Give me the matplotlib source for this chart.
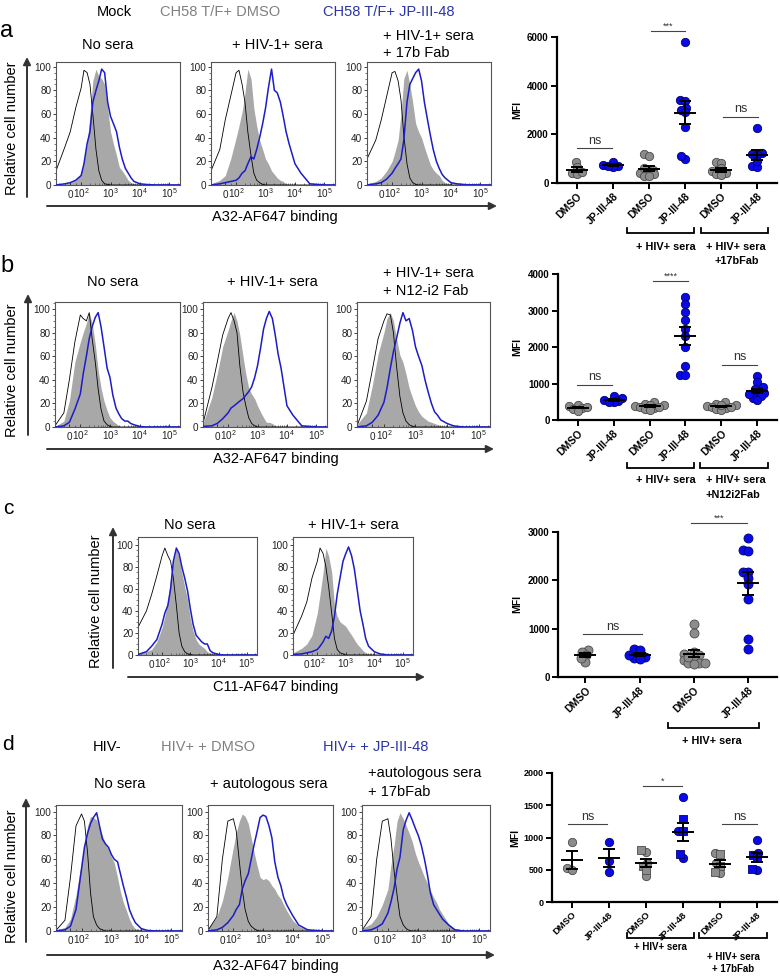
import numpy as np
import matplotlib
matplotlib.use('Agg')
import matplotlib.pyplot as plt
from matplotlib.ticker import FixedLocator, MultipleLocator, NullFormatter

plt.rcParams['font.family'] = ['Liberation Sans', 'DejaVu Sans']
plt.rcParams['mathtext.fontset'] = 'custom'
plt.rcParams['mathtext.rm'] = 'Liberation Sans'
plt.rcParams['mathtext.it'] = 'Liberation Sans:italic'
plt.rcParams['mathtext.bf'] = 'Liberation Sans:bold'
plt.rcParams['mathtext.default'] = 'regular'

# ---------------- histogram data (fluorescence intensity grid, % of max) ----------------
XG = [-130, -50, 0, 50, 100, 125, 160, 200, 250, 320, 400, 500, 630, 800, 1000, 1250,
      1600, 2000, 2500, 3200, 4000, 5000, 6300, 10000, 16000, 32000, 100000, 230000]

a1_black = [12, 32, 45, 65, 82, 97, 95, 85, 60, 30, 12, 4, 1, 0.5, 0, 0, 0, 0, 0, 0, 0, 0, 0, 0, 0, 0, 0, 0]
a1_gray = [0, 1, 2, 4, 10, 20, 35, 60, 88, 98, 92, 90, 85, 65, 45, 35, 25, 15, 12, 8, 4, 2, 1, 0, 0, 0, 0, 0]
a1_blue = [0, 1, 2, 4, 8, 18, 35, 45, 70, 80, 88, 98, 95, 70, 58, 52, 45, 32, 22, 14, 10, 6, 3, 1, 0.5, 0, 0, 0]

a2_black = [12, 30, 55, 75, 95, 97, 85, 70, 45, 25, 10, 4, 2, 0.5, 0, 0, 0, 0, 0, 0, 0, 0, 0, 0, 0, 0, 0, 0]
a2_gray = [1, 4, 8, 22, 40, 50, 62, 78, 98, 90, 65, 50, 38, 30, 22, 18, 12, 9, 6, 4, 3, 1, 0.5, 0, 0, 0, 0, 0]
a2_blue = [0, 1, 2, 3, 4, 6, 10, 12, 18, 24, 22, 30, 40, 52, 65, 82, 98, 80, 78, 70, 58, 45, 35, 18, 10, 1, 0, 0]

a3_black = [22, 38, 55, 75, 95, 96, 88, 72, 42, 18, 6, 2, 0.5, 0, 0, 0, 0, 0, 0, 0, 0, 0, 0, 0, 0, 0, 0, 0]
a3_gray = [1, 3, 6, 12, 20, 28, 38, 60, 90, 97, 85, 70, 52, 45, 40, 32, 24, 17, 13, 10, 8, 4, 2, 0.5, 0, 0, 0, 0]
a3_blue = [0, 1, 2, 5, 10, 14, 18, 22, 38, 70, 85, 90, 95, 98, 88, 70, 55, 42, 30, 20, 14, 9, 6, 2, 1, 0.3, 0, 0]

b1_black = [1, 12, 40, 72, 95, 92, 90, 97, 75, 55, 32, 15, 5, 2, 0.5, 0, 0, 0, 0, 0, 0, 0, 0, 0, 0, 0, 0, 0]
b1_gray = [0.5, 5, 22, 55, 72, 80, 88, 97, 88, 70, 48, 33, 22, 14, 8, 5, 3, 1, 0, 0, 0, 0, 0, 0, 0, 0, 0, 0]
b1_blue = [0, 1, 4, 15, 28, 45, 60, 75, 85, 93, 97, 85, 68, 50, 42, 27, 16, 11, 7, 5, 5, 3, 2, 0.5, 0, 0, 0, 0]

b2_black = [3, 33, 55, 78, 92, 97, 90, 80, 52, 30, 18, 8, 3, 1, 0, 0, 0, 0, 0, 0, 0, 0, 0, 0, 0, 0, 0, 0]
b2_gray = [3, 25, 45, 68, 82, 90, 97, 90, 78, 60, 45, 33, 28, 24, 18, 13, 8, 4, 4, 3, 1, 0.5, 0, 0, 0, 0, 0, 0]
b2_blue = [0.5, 1, 3, 7, 12, 16, 18, 20, 22, 24, 27, 30, 34, 42, 52, 66, 83, 92, 98, 92, 78, 62, 50, 18, 10, 1, 0, 0]

b3_black = [1, 22, 48, 75, 90, 96, 95, 80, 52, 26, 12, 5, 2, 0.5, 0, 0, 0, 0, 0, 0, 0, 0, 0, 0, 0, 0, 0, 0]
b3_gray = [2, 12, 35, 62, 80, 92, 97, 90, 75, 61, 55, 45, 33, 25, 18, 13, 9, 7, 5, 4, 3, 2, 1, 0, 0, 0, 0, 0]
b3_blue = [0, 1, 4, 10, 21, 33, 50, 64, 75, 88, 97, 90, 92, 82, 68, 60, 52, 40, 30, 20, 13, 10, 6, 3, 1, 0, 0, 0]

c1_black = [25, 40, 55, 72, 90, 97, 90, 85, 70, 45, 20, 8, 3, 1, 0.5, 0, 0, 0, 0, 0, 0, 0, 0, 0, 0, 0, 0, 0]
c1_gray = [2, 3, 5, 12, 25, 35, 50, 70, 85, 97, 88, 75, 62, 50, 33, 22, 14, 10, 8, 6, 3, 2, 1, 0, 0, 0, 0, 0]
c1_blue = [0.5, 3, 8, 14, 28, 38, 45, 60, 85, 97, 92, 80, 70, 58, 42, 28, 18, 15, 12, 10, 10, 4, 2, 0.5, 0, 0, 0, 0]

c2_black = [18, 35, 48, 70, 85, 97, 92, 80, 62, 38, 15, 5, 2, 1, 0, 0, 0, 0, 0, 0, 0, 0, 0, 0, 0, 0, 0, 0]
c2_gray = [2, 6, 10, 18, 38, 55, 75, 97, 90, 75, 45, 35, 30, 28, 26, 22, 18, 14, 10, 7, 4, 2, 1, 0, 0, 0, 0, 0]
c2_blue = [0.5, 1, 2, 3, 5, 8, 12, 17, 15, 22, 35, 55, 70, 85, 92, 98, 90, 78, 60, 40, 28, 15, 8, 3, 1, 0, 0, 0]

d1_black = [0.5, 9, 45, 88, 98, 92, 65, 32, 12, 5, 2, 1, 0, 0, 0, 0, 0, 0, 0, 0, 0, 0, 0, 0, 0, 0, 0, 0]
d1_gray = [1, 3, 10, 30, 58, 72, 88, 96, 95, 93, 86, 80, 73, 68, 62, 57, 45, 33, 24, 17, 10, 5, 2, 0.5, 0, 0, 0, 0]
d1_blue = [0, 1, 4, 18, 52, 70, 82, 90, 95, 99, 88, 77, 73, 70, 64, 60, 58, 48, 38, 28, 18, 12, 7, 2, 0.5, 0, 0, 0]

d2_black = [0.5, 12, 60, 92, 94, 84, 58, 35, 18, 8, 4, 2, 0.5, 0, 0, 0, 0, 0, 0, 0, 0, 0, 0, 0, 0, 0, 0, 0]
d2_gray = [2, 12, 25, 45, 70, 82, 92, 98, 96, 90, 78, 66, 55, 45, 43, 44, 42, 38, 35, 30, 27, 22, 17, 9, 4, 1, 0, 0]
d2_blue = [0, 1, 3, 7, 13, 18, 22, 35, 42, 48, 60, 72, 83, 95, 97, 96, 88, 78, 58, 45, 38, 28, 22, 13, 5, 1, 0, 0]

d3_black = [0.5, 12, 60, 92, 94, 78, 50, 30, 12, 5, 2, 0.5, 0, 0, 0, 0, 0, 0, 0, 0, 0, 0, 0, 0, 0, 0, 0, 0]
d3_gray = [2, 6, 12, 22, 35, 55, 72, 92, 99, 94, 88, 82, 75, 65, 58, 52, 45, 40, 34, 28, 24, 18, 14, 6, 2, 0.5, 0, 0]
d3_blue = [0, 1, 3, 6, 15, 24, 36, 52, 62, 85, 93, 99, 93, 86, 80, 72, 60, 47, 32, 22, 18, 14, 10, 5, 1, 0, 0, 0]

HIST_XTICKS = [0, 100, 1000, 10000, 100000]
HIST_XTICKLABELS = ['$0$', '$10^2$', '$10^3$', '$10^4$', '$10^5$']
HIST_YTICKS = [0, 20, 40, 60, 80, 100]

# ---------------- scatter data (MFI) ----------------
CATS6 = ['DMSO', 'JP-III-48', 'DMSO', 'JP-III-48', 'DMSO', 'JP-III-48']
CATS4 = ['DMSO', 'JP-III-48', 'DMSO', 'JP-III-48']

a_dmso_nosera = [850, 650, 420, 380, 450]
a_jp_nosera = [860, 700, 650, 750, 680]
a_dmso_sera = [1180, 1100, 550, 480, 420, 350, 300, 600, 280]
a_jp_sera = [5800, 3400, 3350, 3100, 3000, 2900, 2300, 1000, 1100]
a_dmso_17b = [850, 820, 600, 480, 400, 350, 320]
a_jp_17b = [2250, 1250, 1200, 1150, 700, 650, 900]

b_dmso_nosera = [420, 380, 330, 300, 260, 350]
b_jp_nosera = [650, 600, 560, 520, 480, 500]
b_dmso_sera = [500, 450, 400, 380, 350, 320, 300, 420, 280, 360]
b_jp_sera = [3370, 3170, 2950, 2730, 2500, 2290, 1990, 1470, 1230, 1230]
b_dmso_n12 = [500, 450, 400, 380, 350, 320, 300, 280, 420, 350]
b_jp_n12 = [1200, 1050, 900, 800, 750, 700, 650, 600, 550, 850, 700]

c_dmso_nosera = [560, 520, 450, 320, 400]
c_jp_nosera = [580, 560, 420, 400, 380, 450]
c_dmso_sera = [1100, 920, 520, 480, 450, 400, 350, 300, 280, 260, 300, 420]
c_jp_sera = [2870, 2620, 2600, 2170, 2170, 2050, 1930, 1620, 780, 580]

d_dmso_nosera_c = [930, 520, 490]
d_jp_nosera_c = [930, 640, 470]
d_dmso_sera_c = [770, 600, 410]
d_dmso_sera_s = [800, 560, 500]
d_jp_sera_c = [1630, 1100, 680]
d_jp_sera_s = [1280, 1100, 740]
d_dmso_17b_c = [760, 610, 450]
d_dmso_17b_s = [740, 560, 460]
d_jp_17b_c = [960, 760, 500]
d_jp_17b_s = [730, 680, 510]

# ---------------- figure ----------------
W, H = 780, 977
fig = plt.figure(figsize=(W / 100, H / 100), dpi=100)

GRAYFILL = '#a8a8a8'
BLUELINE = '#1c1cc8'
GRAYPT = '#8c8c8c'
BLUEPT = '#0a0ae8'
LEG_GRAY = '#808080'
LEG_BLUE = '#2a34a8'


def px_axes(l, t, r, b, **kw):
    return fig.add_axes([l / W, 1 - b / H, (r - l) / W, (b - t) / H], **kw)


def hist_panel(rect, black, gray, blue, ytop=105):
    ax = px_axes(*rect)
    ax.set_xscale('symlog', linthresh=100, linscale=0.333)
    ax.fill_between(XG, 0, gray, color=GRAYFILL, lw=0, zorder=1)
    ax.plot(XG, black, color='black', lw=0.6, zorder=2)
    ax.plot(XG, blue, color=BLUELINE, lw=1.1, zorder=3)
    ax.set_xlim(-130, 2.3e5)
    ax.set_ylim(0, ytop)
    ax.xaxis.set_major_locator(FixedLocator(HIST_XTICKS))
    ax.set_xticklabels(HIST_XTICKLABELS)
    minors = [-100, -50, 50] + [k * m for m in (100, 1000, 10000) for k in range(2, 10)] + [200000]
    ax.xaxis.set_minor_locator(FixedLocator(minors))
    ax.xaxis.set_minor_formatter(NullFormatter())
    ax.yaxis.set_major_locator(FixedLocator(HIST_YTICKS))
    ax.yaxis.set_minor_locator(MultipleLocator(5))
    ax.tick_params(axis='both', which='major', labelsize=7.2, length=2.2, width=0.6, pad=1.2, colors='#222222')
    ax.tick_params(axis='x', which='major', pad=9.5, direction='in')
    ax.tick_params(axis='x', which='minor', length=1.4, width=0.5, direction='in', colors='#444444')
    ax.tick_params(axis='y', which='minor', length=1.2, width=0.5, colors='#444444')
    for tk in ax.xaxis.get_major_ticks():
        tk.label1.set_verticalalignment('baseline')
    for s in ax.spines.values():
        s.set_color('#555555')
        s.set_linewidth(0.8)
    return ax


# Row a histograms
hist_panel((56, 62, 180, 185), a1_black, a1_gray, a1_blue, 104)
hist_panel((211, 62, 335, 185), a2_black, a2_gray, a2_blue, 104)
hist_panel((367, 62, 491, 185), a3_black, a3_gray, a3_blue, 104)
# Row b
hist_panel((55, 302, 180, 427), b1_black, b1_gray, b1_blue, 106)
hist_panel((203, 302, 327, 427), b2_black, b2_gray, b2_blue, 106)
hist_panel((357, 302, 490, 427), b3_black, b3_gray, b3_blue, 106)
# Row c
hist_panel((138, 537, 257, 655), c1_black, c1_gray, c1_blue, 107)
hist_panel((293, 537, 413, 655), c2_black, c2_gray, c2_blue, 107)
# Row d
hist_panel((56, 805, 182, 931), d1_black, d1_gray, d1_blue, 105.5)
hist_panel((208, 805, 333, 931), d2_black, d2_gray, d2_blue, 105.5)
hist_panel((362, 805, 490, 931), d3_black, d3_gray, d3_blue, 105.5)


def swarm(vals_px, d):
    n = len(vals_px)
    order = np.argsort(vals_px)
    xs = np.zeros(n)
    placed = []
    for i in order:
        y = vals_px[i]
        cands = [0.0]
        for (px_, py_) in placed:
            dy = y - py_
            if abs(dy) < d:
                dx = np.sqrt(d * d - dy * dy)
                cands += [px_ + dx, px_ - dx]
        cands.sort(key=lambda c: (abs(c), c))
        for c in cands:
            if all((c - px_) ** 2 + (y - py_) ** 2 >= d * d - 1e-6 for px_, py_ in placed):
                xs[i] = c
                break
        placed.append((xs[i], y))
    return xs


def scatter_panel(rect, xlim, ylim, yticks, cats, groups, tick_fs=7, cat_fs=7.5, d=5.0, ms=36):
    ax = px_axes(*rect)
    l, t, r, b = rect
    ppx = (r - l) / (xlim[1] - xlim[0])
    ppy = (b - t) / (ylim[1] - ylim[0])
    for i, (color, parts) in enumerate(groups):
        vals = []
        mks = []
        for v, mk in parts:
            vals += list(v)
            mks += [mk] * len(v)
        vals = np.array(vals, dtype=float)
        offs = swarm(vals * ppy, d) / ppx
        ec = '#4a4a4a' if color == GRAYPT else '#000070'
        for mk in sorted(set(mks)):
            idx = [k for k, m in enumerate(mks) if m == mk]
            ax.scatter(i + offs[idx], vals[idx], s=ms if mk == 'o' else ms * 0.85, marker=mk,
                       facecolor=color, edgecolor=ec, linewidth=0.6, zorder=3, clip_on=False)
        m = vals.mean()
        sem = vals.std(ddof=1) / np.sqrt(len(vals))
        hw = 11 / ppx
        cw = 6 / ppx
        ax.plot([i - hw, i + hw], [m, m], color='black', lw=1.4, zorder=4, solid_capstyle='butt')
        ax.plot([i, i], [m - sem, m + sem], color='black', lw=1.4, zorder=4)
        for yy in (m - sem, m + sem):
            ax.plot([i - cw, i + cw], [yy, yy], color='black', lw=1.4, zorder=4, solid_capstyle='butt')
    ax.set_xlim(*xlim)
    ax.set_ylim(*ylim)
    ax.set_yticks(yticks)
    ax.set_yticklabels([str(v) for v in yticks], fontweight='bold', fontsize=tick_fs)
    ax.set_xticks(range(len(cats)))
    ax.set_xticklabels(cats, rotation=45, ha='right', rotation_mode='anchor',
                       fontweight='bold', fontsize=cat_fs)
    ax.spines['top'].set_visible(False)
    ax.spines['right'].set_visible(False)
    for s in ('left', 'bottom'):
        ax.spines[s].set_linewidth(1.6)
    ax.tick_params(axis='both', length=4, width=1.4, pad=2)
    ax.patch.set_alpha(0)
    return ax


scatter_panel((557, 37, 777, 183), (-0.55, 5.55), (0, 6000), [0, 2000, 4000, 6000], CATS6,
              [(GRAYPT, [(a_dmso_nosera, 'o')]), (BLUEPT, [(a_jp_nosera, 'o')]),
               (GRAYPT, [(a_dmso_sera, 'o')]), (BLUEPT, [(a_jp_sera, 'o')]),
               (GRAYPT, [(a_dmso_17b, 'o')]), (BLUEPT, [(a_jp_17b, 'o')])])
scatter_panel((558, 274, 777, 420), (-0.55, 5.55), (0, 4000), [0, 1000, 2000, 3000, 4000], CATS6,
              [(GRAYPT, [(b_dmso_nosera, 'o')]), (BLUEPT, [(b_jp_nosera, 'o')]),
               (GRAYPT, [(b_dmso_sera, 'o')]), (BLUEPT, [(b_jp_sera, 'o')]),
               (GRAYPT, [(b_dmso_n12, 'o')]), (BLUEPT, [(b_jp_n12, 'o')])])
scatter_panel((558, 532, 777, 677), (-0.5, 3.53), (0, 3000), [0, 1000, 2000, 3000], CATS4,
              [(GRAYPT, [(c_dmso_nosera, 'o')]), (BLUEPT, [(c_jp_nosera, 'o')]),
               (GRAYPT, [(c_dmso_sera, 'o')]), (BLUEPT, [(c_jp_sera, 'o')])], ms=42, d=5.5)
scatter_panel((552, 773, 777, 902), (-0.54, 5.54), (0, 2000), [0, 500, 1000, 1500, 2000], CATS6,
              [(GRAYPT, [(d_dmso_nosera_c, 'o')]), (BLUEPT, [(d_jp_nosera_c, 'o')]),
               (GRAYPT, [(d_dmso_sera_c, 'o'), (d_dmso_sera_s, 's')]),
               (BLUEPT, [(d_jp_sera_c, 'o'), (d_jp_sera_s, 's')]),
               (GRAYPT, [(d_dmso_17b_c, 'o'), (d_dmso_17b_s, 's')]),
               (BLUEPT, [(d_jp_17b_c, 'o'), (d_jp_17b_s, 's')])],
              tick_fs=6.5, cat_fs=6.8)

# ---------------- overlay (annotations in pixel coordinates) ----------------
ov = fig.add_axes([0, 0, 1, 1], zorder=10)
ov.set_xlim(0, W)
ov.set_ylim(H, 0)
ov.axis('off')
ov.patch.set_alpha(0)


def T(x, y, s, ha='center', va='center', **kw):
    ov.text(x, y, s, ha=ha, va=va, **kw)


def arrow(x0, y0, x1, y1):
    ov.annotate('', xy=(x1, y1), xytext=(x0, y0),
                arrowprops=dict(arrowstyle='-|>', color='#333333', lw=1.4, mutation_scale=11,
                                shrinkA=0, shrinkB=0))


FS = 10.5
# panel letters
T(7, 31, 'a', fontsize=17)
T(7, 266, 'b', fontsize=17)
T(8, 509, 'c', fontsize=15)
T(8, 745, 'd', fontsize=15)

# legends
T(114, 12, 'Mock', fontsize=FS)
T(220, 12, 'CH58 T/F+ DMSO', fontsize=FS, color=LEG_GRAY)
T(389, 12, 'CH58 T/F+ JP-III-48', fontsize=FS, color=LEG_BLUE)
T(107, 747, 'HIV-', fontsize=FS)
T(208, 747, 'HIV+ + DMSO', fontsize=FS, color=LEG_GRAY)
T(376, 747, 'HIV+ + JP-III-48', fontsize=FS, color=LEG_BLUE)

# histogram titles
T(108, 45, 'No sera', fontsize=FS)
T(277, 45, '+ HIV-1+ sera', fontsize=FS)
T(383, 36, '+ HIV-1+ sera', ha='left', fontsize=FS)
T(383, 53, '+ 17b Fab', ha='left', fontsize=FS)
T(113, 282, 'No sera', fontsize=FS)
T(272, 282, '+ HIV-1+ sera', fontsize=FS)
T(383, 273, '+ HIV-1+ sera', ha='left', fontsize=FS)
T(383, 291, '+ N12-i2 Fab', ha='left', fontsize=FS)
T(190, 525, 'No sera', fontsize=FS)
T(353, 525, '+ HIV-1+ sera', fontsize=FS)
T(120, 784, 'No sera', fontsize=FS)
T(269, 784, '+ autologous sera', fontsize=FS)
T(368, 773, '+autologous sera', ha='left', fontsize=FS)
T(368, 792, '+ 17bFab', ha='left', fontsize=FS)

# histogram axis arrows and labels
for (x, yb, yt, lx, ly) in [(27, 197, 57, 12, 128), (28, 435, 294, 12, 370),
                            (113, 668, 527, 96, 601), (26, 942, 798, 12, 876)]:
    arrow(x, yb, x, yt)
    T(lx, ly, 'Relative cell number', rotation=90, fontsize=FS)
for (x0, x1, y, lx, ly, lab) in [(47, 497, 206, 275, 217, 'A32-AF647 binding'),
                                 (47, 494, 449, 276, 459, 'A32-AF647 binding'),
                                 (128, 425, 677, 276, 687, 'C11-AF647 binding'),
                                 (47, 495, 955, 276, 966, 'A32-AF647 binding')]:
    arrow(x0, y, x1, y)
    T(lx, ly, lab, fontsize=FS)

# MFI labels
for (x, y) in [(517, 110), (517, 347), (517, 604), (515, 838)]:
    T(x, y, 'MFI', rotation=90, fontsize=7.5, fontweight='bold')

# significance lines
sig = [(577, 612, 148, 'ns'), (651, 685, 31, '***'), (723, 758, 117, 'ns'),
       (577, 612, 385, 'ns'), (653, 688, 281, '****'), (722, 757, 365, 'ns'),
       (691, 747, 523, '***'), (583, 642, 634, 'ns'),
       (568, 607, 824, 'ns'), (643, 682, 786, '*'), (722, 757, 824, 'ns')]
for (x0, x1, y, s) in sig:
    ov.plot([x0, x1], [y, y], color='#444444', lw=0.8)
    if s == 'ns':
        T((x0 + x1) / 2, y - 7.5, s, fontsize=9, color='#333333')
    else:
        T((x0 + x1) / 2, y - 5, s, fontsize=6.5, color='#333333')

# brackets
brackets = [(627, 694, 233), (701, 768, 233), (627, 694, 468), (700, 768, 468),
            (668, 759, 728), (627, 694, 938), (699, 767, 938)]
for (x0, x1, y) in brackets:
    ov.plot([x0, x0, x1, x1], [y - 5, y, y, y - 5], color='black', lw=1.3, solid_joinstyle='miter')

BF = dict(fontsize=7.8, fontweight='bold')
T(666, 247, '+ HIV+ sera', **BF)
T(736, 247, '+ HIV+ sera', **BF)
T(737, 261, '+17bFab', **BF)
T(666, 480, '+ HIV+ sera', **BF)
T(736, 480, '+ HIV+ sera', **BF)
T(733, 495, '+N12i2Fab', **BF)
T(712, 741, '+ HIV+ sera', **BF)
BF2 = dict(fontsize=7.0, fontweight='bold')
T(660, 947, '+ HIV+ sera', **BF2)
T(733, 957, '+ HIV+ sera', **BF2)
T(733, 969, '+ 17bFab', **BF2)

fig.savefig('out.png', dpi=100)
